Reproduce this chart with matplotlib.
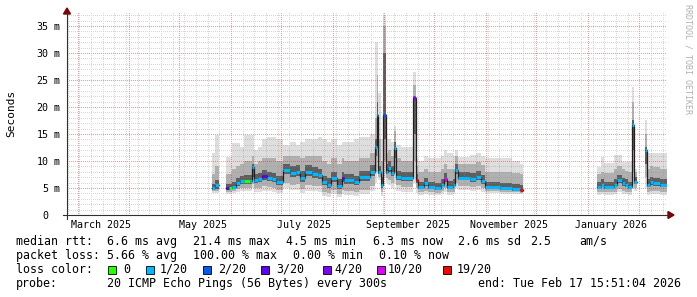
import numpy as np
import matplotlib
matplotlib.use('Agg')
import matplotlib.pyplot as plt
from matplotlib.patches import Rectangle, Polygon
from matplotlib.lines import Line2D
from datetime import datetime, timedelta

W, H = 697, 297
MONO = 'DejaVu Sans Mono'

# time is counted in days since 2025-05-20
origin = datetime(2025, 5, 20)
t_start = datetime(2025, 2, 22, 15, 51, 4)
t_end = datetime(2026, 2, 17, 15, 51, 4)
y_top = 37.4

nan = np.nan

# sample start (days since origin); a nan median ends a run of data
day = [0.7, 2.5, 4.9, 9.1, 10.9, 12.7, 15.1, 17.5, 19.9, 23.5,
       24.7, 25.9, 28.3, 30.7, 33.7, 36.7, 39.1, 43.3, 47.5, 51.1,
       53.5, 56.5, 60.7, 64.3, 66.7, 69.7, 72.0, 75.7, 78.7, 79.9,
       85.9, 88.9, 95.5, 98.5, 99.7, 100.3, 102.1, 103.3, 105.1, 106.3,
       108.1, 109.9, 111.1, 114.1, 121.3, 123.1, 124.3, 127.9, 130.3, 134.5,
       138.1, 139.9, 141.7, 145.3, 146.5, 148.3, 155.5, 159.1, 162.1, 164.5,
       173.5, 180.7, 185.5, 187.3, 231.7, 234.1, 235.9, 241.9, 243.7, 246.7,
       248.5, 250.3, 252.7, 253.9, 255.7, 260.5, 261.7, 263.5, 265.3, 269.5,
       273.4]

# median rtt in ms
median = [5.0, 5.5, nan, 5.0, 5.0, 5.2, 5.9, 6.3, 6.3, 6.3,
          8.9, 6.5, 6.7, 7.2, 6.9, 6.7, 6.1, 8.3, 7.8, 8.0,
          6.9, 8.0, 7.6, 7.4, 6.1, 5.6, 6.9, 5.4, 6.9, 6.5,
          6.1, 7.0, 8.0, 12.6, 18.5, 8.0, 5.6, 18.6, 8.0, 8.7,
          7.8, 12.4, 7.0, 6.9, 21.6, 6.5, 5.2, 5.9, 5.2, 5.0,
          5.6, 6.7, 5.2, 5.6, 8.3, 6.9, 6.7, 7.0, 6.3, 5.2,
          5.0, 4.8, 4.6, nan, 5.2, 5.6, 5.2, 5.6, 6.5, 5.9,
          5.6, 5.2, 16.7, 6.1, nan, 12.0, 5.6, 6.1, 5.9, 5.6,
          nan]

# lost pings out of 20
loss = [1, 1, 1, 3, 0, 1, 1, 1, 0, 1,
        1, 1, 1, 3, 1, 1, 1, 1, 1, 1,
        1, 1, 1, 1, 1, 1, 1, 1, 3, 1,
        1, 1, 1, 1, 1, 1, 1, 2, 1, 1,
        1, 1, 1, 1, 4, 19, 1, 1, 1, 1,
        1, 10, 1, 1, 1, 1, 1, 1, 1, 1,
        1, 1, 19, 1, 1, 1, 1, 1, 1, 1,
        1, 1, 1, 1, 1, 1, 1, 1, 1, 1,
        1]

# smoke envelopes (ms): outer, middle and inner bands
smoke_lo = [4.1, 4.1, nan, 3.9, 3.9, 4.0, 4.3, 4.5, 4.5, 4.5,
            5.0, 4.3, 4.3, 4.5, 4.4, 4.3, 4.0, 5.0, 4.6, 4.7,
            4.0, 4.5, 4.4, 4.3, 3.6, 3.4, 3.8, 3.3, 3.8, 3.7,
            3.5, 3.9, 4.5, 6.0, 8.0, 6.5, 3.5, 7.0, 6.0, 5.5,
            5.0, 6.0, 4.5, 4.3, 6.0, 4.0, 3.7, 3.8, 3.7, 3.7,
            3.9, 4.2, 3.7, 3.8, 5.0, 4.6, 4.5, 4.6, 4.3, 4.0,
            3.9, 3.8, 3.8, nan, 3.7, 3.8, 3.7, 3.8, 4.2, 3.9,
            3.8, 3.7, 5.0, 4.5, nan, 5.0, 3.7, 3.8, 3.8, 3.7,
            nan]
smoke_mid_lo = [4.4, 4.5, nan, 4.3, 4.3, 4.4, 4.8, 5.0, 5.0, 5.0,
                5.8, 5.0, 5.0, 5.3, 5.1, 5.0, 4.7, 6.0, 5.6, 5.7,
                4.8, 5.5, 5.4, 5.3, 4.3, 4.0, 4.6, 3.9, 4.6, 4.4,
                4.2, 4.7, 5.4, 8.0, 11.0, 7.0, 4.2, 10.0, 6.8, 6.5,
                6.0, 8.0, 5.5, 5.2, 10.0, 5.0, 4.2, 4.4, 4.2, 4.1,
                4.4, 5.0, 4.2, 4.3, 6.0, 5.4, 5.2, 5.4, 5.0, 4.4,
                4.3, 4.2, 4.1, nan, 4.2, 4.3, 4.2, 4.3, 4.9, 4.5,
                4.3, 4.2, 8.0, 5.0, nan, 7.0, 4.3, 4.5, 4.4, 4.3,
                nan]
smoke_in_lo = [4.7, 4.9, nan, 4.6, 4.6, 4.8, 5.3, 5.7, 5.8, 5.8,
               7.0, 5.9, 6.1, 6.5, 6.3, 6.1, 5.5, 7.5, 7.0, 7.2,
               6.2, 7.2, 6.9, 6.7, 5.5, 5.0, 6.2, 4.8, 6.2, 5.8,
               5.5, 6.3, 7.2, 11.0, 15.0, 7.6, 5.0, 14.0, 7.5, 8.0,
               7.2, 10.5, 6.5, 6.3, 15.0, 6.0, 4.8, 5.3, 4.8, 4.6,
               5.1, 6.1, 4.8, 5.1, 7.6, 6.4, 6.2, 6.5, 5.8, 4.8,
               4.6, 4.5, 4.4, nan, 4.8, 5.1, 4.8, 5.1, 5.9, 5.4,
               5.1, 4.8, 12.0, 5.7, nan, 9.5, 5.1, 5.6, 5.4, 5.1,
               nan]
smoke_in_hi = [5.8, 6.5, nan, 5.8, 5.8, 6.2, 6.9, 7.3, 7.4, 7.4,
               9.5, 7.6, 7.8, 8.3, 8.0, 7.8, 7.2, 9.5, 9.0, 9.2,
               8.2, 9.2, 8.8, 8.6, 7.3, 6.8, 8.0, 6.6, 8.0, 7.6,
               7.3, 8.2, 9.2, 14.0, 21.0, 9.0, 7.0, 30.0, 9.5, 10.0,
               9.0, 13.5, 8.2, 8.0, 22.0, 7.5, 6.2, 6.9, 6.2, 6.0,
               6.6, 7.8, 6.3, 6.6, 9.5, 8.0, 7.8, 8.1, 7.4, 6.2,
               6.0, 5.8, 5.5, nan, 6.2, 6.6, 6.2, 6.6, 7.4, 6.9,
               6.6, 6.2, 17.5, 7.0, nan, 12.5, 6.6, 7.1, 6.9, 6.6,
               nan]
smoke_mid_hi = [7.5, 9.0, nan, 7.5, 7.5, 8.5, 9.0, 9.5, 10.0, 10.0,
                11.0, 9.5, 10.0, 10.5, 10.5, 10.5, 10.0, 11.0, 11.0, 11.0,
                10.5, 11.0, 11.0, 11.0, 10.0, 9.5, 10.5, 9.5, 10.5, 10.0,
                10.0, 10.5, 11.5, 18.0, 26.0, 14.0, 10.0, 35.0, 11.5, 12.0,
                11.0, 15.5, 10.5, 10.0, 24.0, 9.0, 8.0, 8.5, 8.0, 8.0,
                8.5, 9.5, 8.5, 8.5, 11.0, 9.5, 9.5, 9.8, 9.3, 8.0,
                8.0, 7.8, 7.5, nan, 7.5, 8.0, 7.8, 8.5, 9.0, 8.5,
                8.2, 8.0, 21.0, 8.0, nan, 15.0, 8.5, 9.0, 8.8, 8.5,
                nan]
smoke_hi = [11.5, 14.8, nan, 10.7, 10.7, 13.3, 13.3, 12.5, 14.8, 14.8,
            14.8, 12.0, 12.5, 14.0, 14.4, 14.4, 14.0, 13.0, 13.5, 13.0,
            13.5, 14.0, 14.0, 14.5, 14.0, 13.5, 14.0, 13.0, 13.5, 13.5,
            14.0, 14.5, 15.0, 32.0, 32.0, 22.5, 14.0, 37.0, 14.0, 14.0,
            13.5, 16.5, 13.0, 12.5, 26.5, 10.5, 10.0, 11.0, 10.5, 10.5,
            11.0, 12.0, 11.5, 11.0, 12.0, 10.7, 11.2, 11.5, 11.0, 10.5,
            10.5, 10.0, 9.5, nan, 8.9, 10.7, 9.6, 11.1, 11.1, 9.8,
            9.8, 9.8, 23.7, 8.5, nan, 17.6, 11.5, 11.5, 11.5, 11.5,
            nan]

loss_colors = {0: '#26ff00', 1: '#00b8ff', 2: '#0059ff', 3: '#5e00ff',
               4: '#7e00ff', 10: '#dd00ff', 19: '#ff0000'}
legend_loss = [0, 1, 2, 3, 4, 10, 19]
legend_labels = ['0', '1/20', '2/20', '3/20', '4/20', '10/20', '19/20']


def dnum(t):
    return (t - origin).total_seconds() / 86400.0


def fx(px):
    return px / W


def fy(py):
    return 1 - py / H


fig = plt.figure(figsize=(W / 100, H / 100), dpi=100)
fig.patch.set_facecolor('white')
ax = fig.add_axes([fx(67), fy(215), 600 / W, 202 / H])
x0, x1 = dnum(t_start), dnum(t_end)
ax.axis('off')

d = np.array(day)
widths = np.diff(d)
med = np.array(median)


def band(lo, hi, color, z):
    lo = np.array(lo)[:-1]
    hi = np.array(hi)[:-1]
    ax.bar(d[:-1], hi - lo, width=widths, bottom=lo, align='edge',
           color=color, linewidth=0, antialiased=False, zorder=z)


band(smoke_lo, smoke_hi, '#dedede', 1)
band(smoke_mid_lo, smoke_mid_hi, '#b0b0b0', 1.1)
band(smoke_in_lo, smoke_in_hi, '#5e5e5e', 1.2)

# dotted grid, painted pixel by pixel like rrdtool does
gw, gh = 600, 202
grid_img = np.zeros((gh, gw, 4))
grey = (0.55, 0.55, 0.55, 0.35)
red = (0.85, 0.15, 0.15, 0.45)


def gcol(xd):
    return int(round((xd - x0) / (x1 - x0) * gw))


def grow(v):
    return int(round((1 - v / y_top) * gh))


wk = datetime(2025, 2, 23)
while wk < t_end:
    c = gcol(dnum(wk))
    if 0 <= c < gw:
        grid_img[::2, c] = grey
    wk += timedelta(days=7)
for v in range(1, 38):
    r = grow(v)
    if 0 <= r < gh:
        grid_img[r, ::2] = grey
months = [datetime(2025 + (m - 1) // 12, (m - 1) % 12 + 1, 1) for m in range(3, 15)]
for m in months:
    c = gcol(dnum(m))
    if 0 <= c < gw:
        grid_img[::2, c] = red
for v in range(5, 36, 5):
    grid_img[grow(v), ::2] = red
ax.imshow(grid_img, extent=(x0, x1, 0, y_top), aspect='auto',
          interpolation='nearest', zorder=2)
ax.set_xlim(x0, x1)
ax.set_ylim(0, y_top)

# median: thin dark step line plus loss-coloured segments
ax.step(d, med, where='post', color='#202020', lw=0.9, zorder=3)
seg_colors = [loss_colors[l] for l in loss[:-1]]
ax.hlines(med[:-1], d[:-1], d[1:], colors=seg_colors, lw=2.2, zorder=4)

# y tick labels
for v in range(0, 36, 5):
    yp = 215 - v * 202 / y_top
    fig.text(fx(48.5), fy(yp), str(v), family=MONO, size=7.2,
             ha='right', va='center_baseline')
    if v:
        fig.text(fx(54), fy(yp), 'm', family=MONO, size=7.2,
                 ha='left', va='center_baseline')

# x labels, mid-month
month_labels = [(datetime(2025, 3, 15), 'March 2025'), (datetime(2025, 5, 15), 'May 2025'),
                (datetime(2025, 7, 15), 'July 2025'), (datetime(2025, 9, 15), 'September 2025'),
                (datetime(2025, 11, 15), 'November 2025'), (datetime(2026, 1, 15), 'January 2026')]
for t, s in month_labels:
    ax.text(dnum(t), -13 / 202, s, transform=ax.get_xaxis_transform(),
            family=MONO, size=7.2, ha='center', va='baseline')

fig.text(fx(11), fy(113), 'Seconds', family=MONO, size=8, rotation=90,
         ha='center', va='center')
fig.text(fx(688), fy(59), 'RRDTOOL / TOBI OETIKER', family=MONO, size=6,
         rotation=270, ha='center', va='center', color='#b0b0b0')

# axes with arrows
axis_col = '#303030'
arrow_col = '#7f0000'
fig.add_artist(Line2D([fx(63), fx(670)], [fy(215), fy(215)], color=axis_col, lw=0.8))
fig.add_artist(Line2D([fx(67), fx(67)], [fy(219), fy(12)], color=axis_col, lw=0.8))
fig.add_artist(Polygon([(fx(668), fy(211.5)), (fx(674), fy(215)), (fx(668), fy(218.5))],
                       closed=True, color=arrow_col, transform=fig.transFigure))
fig.add_artist(Polygon([(fx(63.5), fy(14)), (fx(67), fy(8)), (fx(70.5), fy(14))],
                       closed=True, color=arrow_col, transform=fig.transFigure))

# legend block
LS = 8.4
rows = [
    (245, [(16, 'median rtt:'), (107, '6.6 ms avg'), (193, '21.4 ms max'),
           (286, '4.5 ms min'), (373, '6.3 ms now'), (458, '2.6 ms sd'),
           (530, '2.5'), (579, 'am/s')]),
    (259, [(16, 'packet loss:'), (107, '5.66 % avg'), (193, '100.00 % max'),
           (293, '0.00 % min'), (379, '0.10 % now')]),
    (273, [(16, 'loss color:')]),
    (287, [(16, 'probe:'), (107, '20 ICMP Echo Pings (56 Bytes) every 300s'),
           (478, 'end: Tue Feb 17 15:51:04 2026')]),
]
for yb, items in rows:
    for xp, s in items:
        fig.text(fx(xp), fy(yb), s, family=MONO, size=LS, ha='left', va='baseline')

box_x = [108, 146, 203, 261, 323, 377, 443]
lab_x = [123, 160, 218, 276, 334, 388, 457]
for bx, lx, l, s in zip(box_x, lab_x, legend_loss, legend_labels):
    fig.add_artist(Rectangle((fx(bx), fy(274)), 8 / W, 8 / H, facecolor=loss_colors[l],
                             edgecolor='#000000', lw=0.6, transform=fig.transFigure))
    fig.text(fx(lx), fy(273), s, family=MONO, size=LS, ha='left', va='baseline')

fig.savefig('out.png', dpi=100, facecolor='white')
